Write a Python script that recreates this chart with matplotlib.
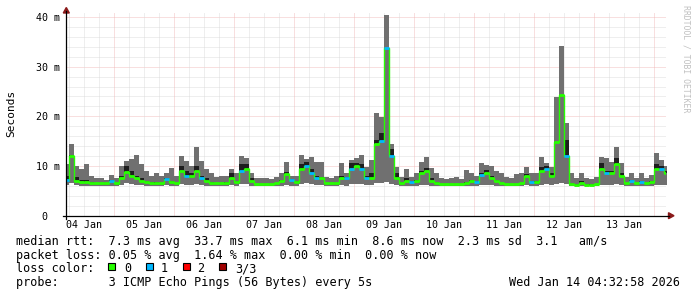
# -*- Coding: utf-8 -*-
import numpy as np
import matplotlib
matplotlib.use("Agg")
import matplotlib.pyplot as plt
from matplotlib.patches import Rectangle, Polygon
from matplotlib.lines import Line2D

# 画像サイズ (px)
W = 697
H = 297

# 時間 (1月4日 0:00 からの時間, 2時間ごとのビン)
hours = np.arange(4, 246, 2)

# median rtt (ms)
med = [7.2, 12.0, 7.0, 6.8, 6.8, 6.6, 6.5, 6.5, 6.5, 7.0,
       6.5, 7.5, 8.8, 8.0, 7.5, 7.0, 6.8, 6.6, 6.6, 6.5,
       7.3, 6.8, 6.5, 9.0, 8.0, 8.0, 9.0, 7.5, 7.0, 6.6,
       6.5, 6.5, 6.6, 7.5, 6.8, 9.0, 9.5, 7.0, 6.3, 6.3,
       6.3, 6.3, 6.5, 7.0, 8.3, 7.2, 6.8, 9.5, 10.0, 8.5,
       7.5, 7.5, 6.5, 6.5, 6.5, 7.5, 7.5, 9.5, 10.0, 9.5,
       7.5, 7.5, 14.5, 15.0, 33.7, 12.0, 7.5, 6.5, 7.0, 6.8,
       7.0, 8.5, 9.0, 7.0, 6.6, 6.3, 6.3, 6.3, 6.3, 6.3,
       6.6, 7.0, 6.8, 8.2, 8.6, 7.5, 7.0, 6.5, 6.3, 6.3,
       6.3, 6.5, 8.0, 6.8, 6.8, 9.0, 9.5, 8.0, 14.9, 24.3,
       12.0, 6.3, 6.2, 6.5, 6.2, 6.2, 6.3, 9.5, 8.5, 8.5,
       10.5, 8.0, 6.5, 7.0, 6.5, 6.8, 6.5, 6.8, 9.5, 9.5,
       8.6]

# smoke 上限 (ms)
hi = [10.5, 14.5, 10.0, 9.5, 10.4, 8.0, 7.5, 7.6, 7.2, 8.2,
      7.5, 10.0, 11.0, 11.5, 12.3, 10.5, 9.0, 8.0, 8.5, 8.0,
      8.5, 9.6, 8.0, 12.0, 11.0, 10.0, 13.9, 11.0, 9.5, 8.5,
      7.8, 8.0, 8.0, 9.5, 8.5, 12.0, 11.7, 8.6, 7.5, 7.5,
      7.5, 7.3, 7.8, 8.5, 10.9, 8.0, 8.0, 12.3, 11.5, 11.9,
      10.9, 10.9, 7.8, 7.5, 8.0, 10.6, 8.6, 11.3, 11.7, 12.3,
      9.9, 11.3, 20.7, 19.9, 40.4, 14.5, 9.9, 7.8, 9.4, 7.8,
      8.6, 10.9, 11.9, 9.7, 8.6, 7.5, 7.3, 7.5, 7.8, 7.3,
      9.2, 8.6, 8.0, 10.6, 10.3, 10.0, 9.0, 8.5, 7.8, 7.5,
      8.3, 8.5, 9.9, 8.6, 8.5, 11.9, 10.6, 9.9, 23.9, 34.2,
      18.7, 8.6, 7.5, 8.6, 7.5, 7.3, 7.8, 11.9, 11.7, 10.9,
      13.9, 10.6, 7.8, 8.6, 7.5, 8.6, 7.5, 8.2, 12.7, 11.3,
      10.0]

# 濃い smoke 上限 (ms)
dhi = [8.0, 12.3, 7.8, 7.2, 7.2, 6.8, 6.6, 6.6, 6.5, 7.2,
       6.6, 8.0, 10.0, 9.0, 8.0, 7.5, 7.0, 6.8, 6.8, 6.6,
       7.5, 7.0, 6.6, 10.0, 9.0, 8.5, 10.0, 8.0, 7.5, 6.8,
       6.6, 6.6, 6.8, 8.5, 7.0, 10.5, 10.5, 7.5, 6.4, 6.4,
       6.4, 6.4, 6.6, 7.2, 8.8, 7.3, 7.0, 10.5, 10.9, 9.5,
       8.0, 7.8, 6.6, 6.6, 6.6, 8.0, 7.8, 10.6, 10.6, 10.5,
       8.0, 8.5, 15.3, 16.7, 33.8, 13.5, 8.5, 6.7, 7.6, 7.0,
       7.2, 9.0, 9.7, 7.5, 6.8, 6.4, 6.4, 6.4, 6.4, 6.4,
       6.8, 7.2, 7.0, 8.5, 9.2, 8.0, 7.2, 6.6, 6.4, 6.4,
       6.4, 6.6, 8.3, 7.0, 7.0, 9.9, 10.0, 8.5, 14.9, 24.3,
       15.3, 6.5, 6.3, 7.0, 6.3, 6.3, 6.4, 10.6, 9.0, 9.0,
       11.7, 8.5, 6.6, 7.2, 6.6, 7.0, 6.6, 7.0, 10.5, 10.0,
       9.0]

# smoke 下限 (ms)
lo = [6.2, 6.5, 6.1, 6.0, 6.0, 6.0, 6.0, 6.0, 6.0, 6.0,
      6.0, 6.2, 6.5, 6.3, 6.2, 6.1, 6.0, 6.0, 6.0, 6.0,
      6.1, 6.0, 6.0, 6.3, 6.2, 6.2, 6.4, 6.1, 6.0, 6.0,
      6.0, 6.0, 6.0, 6.1, 6.0, 6.4, 6.4, 6.0, 5.9, 5.9,
      5.9, 5.9, 6.0, 6.0, 6.2, 6.0, 6.0, 6.3, 6.5, 6.3,
      6.1, 6.1, 6.0, 6.0, 6.0, 6.1, 6.0, 6.3, 6.4, 6.3,
      6.1, 6.1, 6.5, 6.6, 6.8, 6.4, 6.1, 6.0, 6.0, 6.0,
      6.0, 6.2, 6.2, 6.0, 6.0, 6.0, 6.0, 6.0, 6.0, 6.0,
      6.0, 6.0, 6.0, 6.2, 6.2, 6.1, 6.0, 6.0, 6.0, 6.0,
      6.0, 6.0, 6.1, 6.0, 6.0, 6.2, 6.3, 6.1, 6.4, 6.6,
      6.3, 5.9, 5.9, 6.0, 5.9, 5.9, 5.9, 6.2, 6.2, 6.2,
      6.3, 6.1, 6.0, 6.0, 6.0, 6.0, 6.0, 6.0, 6.2, 6.2,
      6.1]

# loss 区分 (0, 1, 2, 3/3)
loss = [1, 0, 0, 0, 0, 0, 0, 0, 0, 1,
        0, 0, 0, 0, 0, 0, 0, 0, 0, 0,
        1, 0, 0, 0, 1, 0, 0, 1, 0, 0,
        0, 0, 0, 0, 0, 1, 0, 0, 0, 0,
        0, 0, 0, 0, 0, 1, 0, 0, 1, 1,
        1, 0, 0, 0, 0, 0, 1, 1, 0, 1,
        1, 0, 0, 1, 1, 1, 0, 0, 0, 1,
        0, 0, 0, 0, 0, 0, 0, 0, 0, 0,
        0, 0, 1, 1, 0, 0, 0, 0, 0, 0,
        0, 0, 0, 1, 0, 0, 1, 0, 0, 0,
        1, 0, 0, 0, 0, 0, 0, 0, 1, 0,
        0, 0, 0, 1, 0, 1, 0, 0, 0, 1,
        0]

loss_colors = ["#26ff00", "#00b8ff", "#ff0000", "#a00000"]
loss_names = ["0", "1", "2", "3/3"]

# 軸ラベル
day_labels = ["04 Jan", "05 Jan", "06 Jan", "07 Jan", "08 Jan",
              "09 Jan", "10 Jan", "11 Jan", "12 Jan", "13 Jan"]
day_label_hours = [12, 36, 60, 84, 108, 132, 156, 180, 204, 228]
y_ticks = [0, 10, 20, 30, 40]
y_labels = [" 0  ", "10 m", "20 m", "30 m", "40 m"]

# 凡例テキスト
line_rtt = "median rtt:  7.3 ms avg  33.7 ms max  6.1 ms min  8.6 ms now  2.3 ms sd  3.1   am/s"
line_loss = "packet loss: 0.05 % avg  1.64 % max  0.00 % min  0.00 % now"
line_probe = "probe:       3 ICMP Echo Pings (56 Bytes) every 5s"
stamp = "Wed Jan 14 04:32:58 2026"

# プロット領域 (px)
X0 = 66.3
X1 = 666.3
Y0 = 215.7
YT = 13.0
PX_MS = 4.967


# px -> figure 座標
def fx(x):
    return x / W
# End_Def


def fy(y):
    return 1 - y / H
# End_Def


def ext(a):
    return np.append(a, a[-1])
# End_Def


def Main():
    plt.rcParams['font.family'] = 'DejaVu Sans Mono'
    fig = plt.figure(figsize=(W / 100, H / 100), dpi=100)
    fig.patch.set_facecolor("white")
    ax = fig.add_axes([fx(X0), fy(Y0), (X1 - X0) / W, (Y0 - YT) / H])
    ax.set_xlim(4.8, 244.8)
    ax.set_ylim(0, (Y0 - YT) / PX_MS)
    for s in ax.spines.values():
        s.set_visible(False)

    # グリッド (点線)
    for v in range(2, 41, 2):
        c = "#f0b4b4" if v % 10 == 0 else "#d8d8d8"
        ax.axhline(v, color=c, lw=0.6, ls=(0, (1.2, 1.2)), zorder=1)
    for h in range(6, 245, 6):
        c = "#f0b4b4" if h % 24 == 0 else "#d8d8d8"
        ax.axvline(h, color=c, lw=0.6, ls=(0, (1.2, 1.2)), zorder=1)

    # smoke
    t_e = np.append(hours, hours[-1] + 2)
    ax.fill_between(t_e, ext(lo), ext(hi), step="post", color="#707070", lw=0, zorder=2)
    ax.fill_between(t_e, ext(med), ext(dhi), step="post", color="#1e1e1e", lw=0, zorder=3)

    # median
    ax.step(t_e, ext(med), where="post", color=loss_colors[0], lw=1.0, zorder=4)
    ax.hlines(med, hours, hours + 2, colors=[loss_colors[k] for k in loss], lw=2, zorder=5)

    # 目盛り
    ax.set_xticks(day_label_hours)
    ax.set_xticklabels(day_labels, fontsize=7.2)
    ax.set_yticks(y_ticks)
    ax.set_yticklabels(y_labels, fontsize=7.2)
    ax.tick_params(axis="x", length=0, pad=3)
    ax.tick_params(axis="y", length=0, pad=4.5)

    # 軸線と矢印
    fig.add_artist(Line2D([fx(63), fx(669)], [fy(Y0), fy(Y0)], color="black", lw=0.9))
    fig.add_artist(Line2D([fx(X0), fx(X0)], [fy(219), fy(11)], color="black", lw=0.9))
    fig.add_artist(Polygon([[fx(X0 - 3), fy(13)], [fx(X0 + 3), fy(13)], [fx(X0), fy(7.5)]],
                           closed=True, color="#8b1a1a", transform=fig.transFigure))
    fig.add_artist(Polygon([[fx(668.5), fy(Y0 - 3)], [fx(668.5), fy(Y0 + 3)], [fx(674), fy(Y0)]],
                           closed=True, color="#8b1a1a", transform=fig.transFigure))

    # 縦ラベルと透かし
    fig.text(fx(11), fy(113), "Seconds", rotation=90, fontsize=8, ha="center", va="center")
    fig.text(fx(686), fy(5), "RRDTOOL / TOBI OETIKER", rotation=270, fontsize=5.9,
             color="#c0c0c0", ha="center", va="top")

    # 凡例
    fig.text(fx(16), fy(244.5), line_rtt, fontsize=8.5, va="baseline")
    fig.text(fx(16), fy(258.5), line_loss, fontsize=8.5, va="baseline")
    fig.text(fx(16), fy(272.3), "loss color:", fontsize=8.5, va="baseline")
    box_x = [108.3, 145.7, 182.7, 219.0]
    name_x = [124.0, 160.7, 197.3, 234.7]
    for i in range(len(loss_names)):
        fig.add_artist(Rectangle((fx(box_x[i]), fy(270)), 7 / W, 7 / H, transform=fig.transFigure,
                                 facecolor=loss_colors[i], edgecolor="black", lw=0.8))
        fig.text(fx(name_x[i]), fy(272.3), loss_names[i], fontsize=8.5, va="baseline")
    # End_For
    fig.text(fx(16), fy(286.3), line_probe, fontsize=8.5, va="baseline")
    fig.text(fx(680), fy(286.3), stamp, fontsize=8.5, va="baseline", ha="right")

    fig.savefig("out.png", dpi=100, facecolor="white")
# End_Def


if __name__ == "__main__":
    Main()
